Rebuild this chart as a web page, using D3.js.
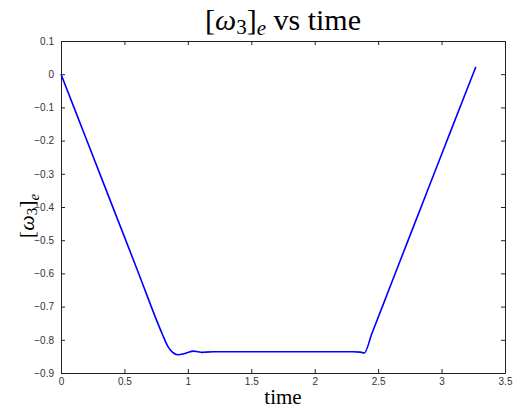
<!DOCTYPE html>
<html>
<head>
<meta charset="utf-8">
<script src="https://cdn.jsdelivr.net/npm/d3@7"></script>
<style>
  body { margin: 0; background: #fff; }
  svg { display: block; }
  .tick text { font-family: "Liberation Sans", Arial, sans-serif; font-size: 10px; fill: #333; }
  .serif { font-family: "Liberation Serif", "DejaVu Serif", serif; fill: #000; }
</style>
</head>
<body>
<div id="chart"></div>
<script>
// values
const time = [0, 0.2, 0.4, 0.6, 0.8, 0.84, 0.88, 0.92, 0.96, 1.0, 1.04, 1.08, 1.11, 1.14, 1.2, 1.5, 2.0, 2.3, 2.36, 2.39, 2.45, 2.6, 2.8, 3.0, 3.2, 3.27];
const omega = [0, -0.196, -0.392, -0.588, -0.784, -0.818, -0.838, -0.845, -0.843, -0.838, -0.834, -0.836, -0.838, -0.837, -0.836, -0.836, -0.836, -0.836, -0.837, -0.840, -0.782, -0.634, -0.438, -0.242, -0.046, 0.022];

const xTicks = [0, 0.5, 1, 1.5, 2, 2.5, 3, 3.5];
const yTicks = [0.1, 0, -0.1, -0.2, -0.3, -0.4, -0.5, -0.6, -0.7, -0.8, -0.9];

const width = 519;
const height = 412;
const margin = {top: 41, right: 14, bottom: 39, left: 61};
const chartWidth = width - margin.left - margin.right;
const chartHeight = height - margin.top - margin.bottom;

const xScale = d3.scaleLinear().domain([0, 3.5]).range([0, chartWidth]);
const yScale = d3.scaleLinear().domain([-0.9, 0.1]).range([chartHeight, 0]);

const svg = d3.select('#chart')
    .append('svg')
        .attr('width', width)
        .attr('height', height);

const canvas = svg.append('g')
    .attr('transform', `translate(${margin.left}, ${margin.top})`);

// axes with inward ticks, on all four sides
const fmt = d => d3.format('')(+d.toFixed(1));
const styleAxis = g => {
    g.select('.domain').attr('stroke', '#222');
    g.selectAll('.tick line').attr('stroke', '#222');
};

canvas.append('g')
    .attr('transform', `translate(0, ${chartHeight})`)
    .call(d3.axisBottom(xScale).tickValues(xTicks).tickFormat(fmt).tickSizeInner(-4).tickSizeOuter(0).tickPadding(5))
    .call(styleAxis);

canvas.append('g')
    .call(d3.axisTop(xScale).tickValues(xTicks).tickFormat('').tickSizeInner(-4).tickSizeOuter(0))
    .call(styleAxis);

canvas.append('g')
    .call(d3.axisLeft(yScale).tickValues(yTicks).tickFormat(fmt).tickSizeInner(-4).tickSizeOuter(0).tickPadding(7))
    .call(styleAxis);

canvas.append('g')
    .attr('transform', `translate(${chartWidth}, 0)`)
    .call(d3.axisRight(yScale).tickValues(yTicks).tickFormat('').tickSizeInner(-4).tickSizeOuter(0))
    .call(styleAxis);

// the curve
const line = d3.line()
    .x((d, i) => xScale(time[i]))
    .y(d => yScale(d))
    .curve(d3.curveMonotoneX);

canvas.append('path')
    .datum(omega)
    .attr('fill', 'none')
    .attr('stroke', '#0000ff')
    .attr('stroke-width', 1.6)
    .attr('stroke-linejoin', 'round')
    .attr('d', line);

// title
const title = svg.append('text')
    .attr('class', 'serif')
    .attr('x', 283)
    .attr('y', 30)
    .attr('text-anchor', 'middle')
    .attr('font-size', 30);
title.append('tspan').text('[');
title.append('tspan').attr('font-style', 'italic').text('ω');
title.append('tspan').attr('font-size', 21).attr('dy', 4).text('3');
title.append('tspan').attr('dy', -4).text(']');
title.append('tspan').attr('font-style', 'italic').attr('font-size', 21).attr('dy', 5).text('e');
title.append('tspan').attr('dy', -5).text(' vs time');

// x label
svg.append('text')
    .attr('class', 'serif')
    .attr('x', margin.left + chartWidth / 2)
    .attr('y', 404)
    .attr('text-anchor', 'middle')
    .attr('font-size', 21)
    .text('time');

// y label
const ylab = svg.append('text')
    .attr('class', 'serif')
    .attr('transform', 'translate(34, 216) rotate(-90)')
    .attr('text-anchor', 'middle')
    .attr('font-size', 22);
ylab.append('tspan').text('[');
ylab.append('tspan').attr('font-style', 'italic').text('ω');
ylab.append('tspan').attr('font-size', 15).attr('dy', 3).text('3');
ylab.append('tspan').attr('dy', -3).text(']');
ylab.append('tspan').attr('font-style', 'italic').attr('font-size', 15).attr('dy', 5).text('e');
</script>
</body>
</html>
